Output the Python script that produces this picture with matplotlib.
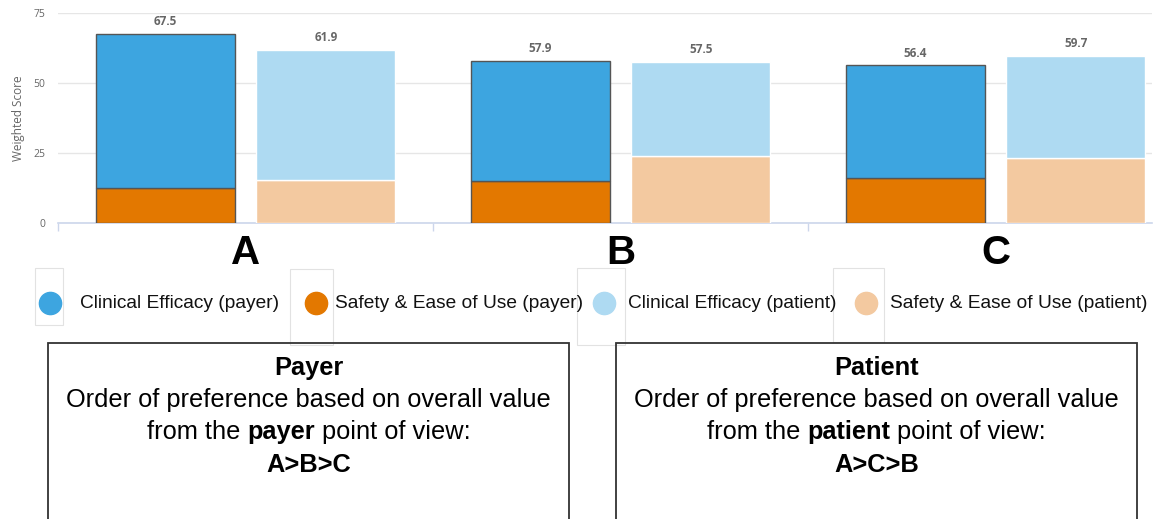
"""Weighted score by option, payer vs patient view, with preference summary boxes."""

import matplotlib

matplotlib.use("Agg")
import matplotlib.pyplot as plt
from matplotlib.lines import Line2D
from matplotlib.patches import Rectangle
import numpy as np

W, H = 1156, 519

categories = ["A", "B", "C"]
payer_safety = [12.4, 15.0, 16.1]
payer_efficacy = [55.1, 42.9, 40.3]
patient_safety = [15.4, 23.9, 23.2]
patient_efficacy = [46.5, 33.6, 36.5]
y_ticks = [0, 25, 50, 75]

legend_labels = [
    "Clinical Efficacy (payer)",
    "Safety & Ease of Use (payer)",
    "Clinical Efficacy (patient)",
    "Safety & Ease of Use (patient)",
]
colors = ["#3da5e0", "#e37800", "#aedaf2", "#f3c9a0"]

box_titles = ["Payer", "Patient"]
box_viewpoints = ["payer", "patient"]
box_orders = ["A>B>C", "A>C>B"]

SANS = ["Liberation Sans", "DejaVu Sans"]
CHART = ["Open Sans", "DejaVu Sans"]


def fx(px):
    return px / W


def fy(py):
    return 1 - py / H


fig = plt.figure(figsize=(W / 100, H / 100), dpi=100)

# chart area
left, right, top, bottom = 58, 1152, 13, 223
ax = fig.add_axes([fx(left), fy(bottom), fx(right - left), (bottom - top) / H])
x = np.arange(len(categories))
bw = 0.37
off = 0.214

ax.bar(x - off, payer_safety, bw, color=colors[1], edgecolor="#555555", linewidth=1, zorder=3)
ax.bar(x - off, payer_efficacy, bw, bottom=payer_safety, color=colors[0],
       edgecolor="#555555", linewidth=1, zorder=3)
ax.bar(x + off, patient_safety, bw, color=colors[3], edgecolor="white", linewidth=1, zorder=3)
ax.bar(x + off, patient_efficacy, bw, bottom=patient_safety, color=colors[2],
       edgecolor="white", linewidth=1, zorder=3)

payer_total = np.add(payer_safety, payer_efficacy)
patient_total = np.add(patient_safety, patient_efficacy)
for xs, totals in ((x - off, payer_total), (x + off, patient_total)):
    for xi, t in zip(xs, totals):
        ax.annotate(f"{t:.1f}", (xi, t), xytext=(0, 4), textcoords="offset points",
                    ha="center", va="bottom", fontsize=8.5, fontweight="bold",
                    color="#666666", family=CHART)

ax.set_yticks(y_ticks)
ax.set_yticklabels([str(v) for v in y_ticks], fontsize=7.5, color="#666666", family=CHART)
ax.tick_params(axis="y", length=0, pad=9)
ax.grid(axis="y", color="#e6e6e6", linewidth=1, zorder=0)
ax.set_ylabel("Weighted Score", fontsize=8.5, color="#666666", family=CHART, labelpad=6)

ax.set_xticks(x)
ax.set_xticklabels(categories, fontsize=29, fontweight="bold", family=SANS)
ax.tick_params(axis="x", which="major", length=0, pad=8)
ax.set_xticks(np.arange(-0.5, len(categories)), minor=True)
ax.tick_params(axis="x", which="minor", length=6, color="#ccd6eb", width=1)

# limits after ticks so the boundary ticks don't widen the view
ax.set_xlim(-0.5, -0.5 + (right - left) / 375)
ax.set_ylim(0, 75)

for s in ("top", "right", "left"):
    ax.spines[s].set_visible(False)
ax.spines["bottom"].set_color("#ccd6eb")
ax.spines["bottom"].set_linewidth(1.2)

# legend row
marker_x = [50, 316, 604, 866]
text_x = [80, 335, 628, 890]
frames = [(35, 63, 268, 325), (290, 333, 269, 345), (577, 625, 268, 345), (833, 884, 268, 342)]
legend_y = 303
for (x0, x1, y0, y1) in frames:
    fig.add_artist(Rectangle((fx(x0), fy(y1)), fx(x1 - x0), (y1 - y0) / H,
                             transform=fig.transFigure, fill=False,
                             edgecolor="#e2e2e2", linewidth=0.8))
for mx, tx, lab, c in zip(marker_x, text_x, legend_labels, colors):
    fig.add_artist(Line2D([fx(mx)], [fy(legend_y)], marker="o", markersize=16,
                          color=c, linestyle="none", transform=fig.transFigure))
    fig.text(fx(tx), fy(legend_y), lab, ha="left", va="center",
             fontsize=13.8, family=SANS, color="#111111")

# preference boxes
boxes = [(48, 569), (616, 1137)]
box_top = 343
fs = 18.3
for (x0, x1), title, who, order in zip(boxes, box_titles, box_viewpoints, box_orders):
    fig.add_artist(Rectangle((fx(x0), fy(H + 5)), fx(x1 - x0), (H + 5 - box_top) / H,
                             transform=fig.transFigure, fill=False,
                             edgecolor="#333333", linewidth=1.3))
    cx = fx((x0 + x1) / 2)
    fig.text(cx, fy(368), title, ha="center", va="center", fontsize=fs,
             fontweight="bold", family=SANS)
    fig.text(cx, fy(400), "Order of preference based on overall value",
             ha="center", va="center", fontsize=fs, family=SANS)
    fig.text(cx, fy(465), order, ha="center", va="center", fontsize=fs,
             fontweight="bold", family=SANS)

    # third line mixes regular and bold runs
    runs = [("from the ", "normal"), (who, "bold"), (" point of view:", "normal")]
    renderer = fig.canvas.get_renderer()
    pieces = []
    for txt, wt in runs:
        t = fig.text(0, fy(432), txt, ha="left", va="center", fontsize=fs,
                     fontweight=wt, family=SANS)
        pieces.append((t, t.get_window_extent(renderer).width / W))
    total = sum(w for _, w in pieces)
    pos = cx - total / 2
    for t, w in pieces:
        t.set_x(pos)
        pos += w

fig.savefig("out.png", dpi=100)
